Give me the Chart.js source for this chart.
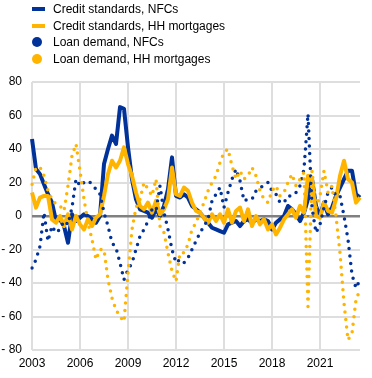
<!DOCTYPE html>
<html>
<head>
<meta charset="utf-8">
<script src="https://cdn.jsdelivr.net/npm/chart.js@4.4.1/dist/chart.umd.min.js"></script>
<style>
  html, body { margin: 0; padding: 0; background: #fff; }
  #wrap { position: relative; width: 372px; height: 378px; }
  #chart { position: absolute; left: 0; top: 0; }
  #legend { position: absolute; left: 0; top: 0; font: 12px "Liberation Sans", Arial, sans-serif; color: #000; }
  .item { position: absolute; left: 53px; white-space: nowrap; line-height: 14px; }
  .mark { position: absolute; }
</style>
</head>
<body>
<div id="wrap">
  <canvas id="chart" width="372" height="378"></canvas>
  <div id="legend"></div>
</div>
<script>
// quarters 2003Q1 .. 2023Q3
const firstYear = 2003;
const quarterCount = 83;
const yearTicks = ["2003", "2006", "2009", "2012", "2015", "2018", "2021"];

// Credit standards (net %), solid lines
const creditNFC = [
  46, 28, 25, 19, 13, 8, -3, -2, -6, -16, 1, -3,
  -1, 1, 0, -2, -4, 0, 31, 40, 48, 43, 65, 64,
  41, 22, 10, 4, 3, 2, -1, 4, 0, 6, 16, 35,
  12, 11, 13, 11, 6, 4, 2, -1, -4, -7, -8, -9,
  -10, -5, -4, -3, -6, -3, -2, -4, -2, -3, -2, -3,
  -8, -4, -2, 0, 6, 4, 1, -3, 2, 10, 22, 6,
  0, 8, 1, 5, 12, 17, 22, 27, 27, 13, 11
];
const creditHH = [
  14, 5, 11, 12, 12, -2, -4, 0, -6, 1, -8, 0,
  -5, -8, -2, -6, -1, 1, 12, 25, 33, 29, 33, 41,
  31, 24, 14, 6, 4, 8, 2, 9, 1, 4, 10, 29,
  13, 12, 17, 15, 8, 3, 2, -1, -4, 1, -3, 1,
  -4, 4, -4, 3, 5, -3, 4, -6, 0, -5, -2, -8,
  -5, -11, -7, -2, 1, 4, -1, 6, 2, 24, 22, 0,
  -1, 8, 3, 2, 10, 24, 33, 22, 20, 8, 11
];

// Loan demand (net %), dotted lines
const demandNFC = [
  -31, -26, -18, 2, -15, -6, -10, -8, -3, -5, 5, 22,
  18, 20, 21, 19, 16, 13, 2, -6, -16, -19, -28, -38,
  -32, -28, -20, -12, -8, -3, 4, 3, 18, 2, -8, -20,
  -28, -26, -28, -25, -20, -15, -10, -6, -2, 9, 13, 17,
  5, 14, 22, 28, 21, 9, 10, 10, 15, 17, 18, 20,
  15, 13, 8, 8, 12, 12, 14, 18, 28, 61, 5, -10,
  -5, 5, 14, 17, 12, 12, 0, -14, -35, -43, -38
];
const demandHH = [
  19, 29, 29, 24, 15, 10, 7, 6, 3, 18, 36, 43,
  27, 10, -4, -14, -26, -20, -20, -38, -49, -56, -60, -63,
  -34, -8, 5, 10, 20, 16, 12, 22, -6, -10, -22, -33,
  -39, -22, -22, -17, -8, -4, 2, 8, 15, 20, 24, 32,
  38, 40, 30, 22, 27, 22, 24, 29, 24, 15, 10, 8,
  15, 18, 12, 14, 20, 25, 18, 22, 26, -54, 27, 5,
  12, 27, 14, 18, 0, -22, -52, -74, -70, -50, -44
];

const labels = [];
for (let i = 0; i < quarterCount; i++) {
  labels.push((firstYear + Math.floor(i / 4)) + "Q" + (i % 4 + 1));
}

const BLUE = "#003299";
const YELLOW = "#ffb400";
const FONT = "'Liberation Sans', Arial, sans-serif";

function isYearTick(i) {
  const lab = labels[i];
  return lab && lab.endsWith("Q1") && yearTicks.includes(lab.slice(0, 4));
}

const datasets = [
  { label: "Credit standards, NFCs", data: creditNFC, borderColor: BLUE, borderWidth: 4, order: 4, legend: "line" },
  { label: "Credit standards, HH mortgages", data: creditHH, borderColor: YELLOW, borderWidth: 4, order: 3, legend: "line" },
  { label: "Loan demand, NFCs", data: demandNFC, borderColor: BLUE, borderWidth: 3.5, borderDash: [0, 7.5], borderCapStyle: "round", order: 2, legend: "dot" },
  { label: "Loan demand, HH mortgages", data: demandHH, borderColor: YELLOW, borderWidth: 3.5, borderDash: [0, 7.5], borderCapStyle: "round", order: 1, legend: "dot" }
];

// legend (html, one entry per row)
const legendEl = document.getElementById("legend");
datasets.forEach((ds, k) => {
  const cy = 9 + k * 16.5;
  const mark = document.createElement("div");
  mark.className = "mark";
  if (ds.legend === "line") {
    mark.style.cssText = `left:32px;top:${cy - 2}px;width:13px;height:4px;background:${ds.borderColor};`;
  } else {
    mark.style.cssText = `left:32px;top:${cy - 5}px;width:10px;height:10px;border-radius:50%;background:${ds.borderColor};`;
  }
  const txt = document.createElement("div");
  txt.className = "item";
  txt.style.top = (cy - 7) + "px";
  txt.textContent = ds.label;
  legendEl.appendChild(mark);
  legendEl.appendChild(txt);
});

const ctx = document.getElementById("chart").getContext("2d");
new Chart(ctx, {
  type: "line",
  data: {
    labels: labels,
    datasets: datasets.map(ds => ({
      label: ds.label,
      data: ds.data,
      borderColor: ds.borderColor,
      backgroundColor: ds.borderColor,
      borderWidth: ds.borderWidth,
      borderDash: ds.borderDash || [],
      borderCapStyle: ds.borderCapStyle || "butt",
      borderJoinStyle: "round",
      pointRadius: 0,
      tension: 0,
      fill: false,
      order: ds.order
    }))
  },
  options: {
    responsive: false,
    animation: false,
    layout: { padding: { top: 82, right: 12, left: 0, bottom: 0 } },
    plugins: {
      legend: { display: false },
      tooltip: { enabled: false }
    },
    scales: {
      x: {
        offset: false,
        border: { display: false },
        grid: {
          drawTicks: false,
          lineWidth: 2,
          color: (c) => isYearTick(c.index) ? "#dedede" : "rgba(0,0,0,0)"
        },
        ticks: {
          autoSkip: false,
          maxRotation: 0,
          padding: 6,
          color: "#000",
          font: { family: FONT, size: 12 },
          callback: (v, i) => isYearTick(i) ? labels[i].slice(0, 4) : ""
        },
        afterFit: (s) => { s.height = 28; }
      },
      y: {
        min: -80,
        max: 80,
        border: { display: false },
        grid: {
          drawTicks: false,
          lineWidth: (c) => c.tick && c.tick.value === 0 ? 2.5 : 2,
          color: (c) => c.tick && c.tick.value === 0 ? "#808080" : "#dedede"
        },
        ticks: {
          stepSize: 20,
          padding: 10,
          color: "#000",
          font: { family: FONT, size: 12 },
          callback: (v) => v < 0 ? "- " + Math.abs(v) : String(v)
        },
        afterFit: (s) => { s.width = 32; }
      }
    }
  }
});
</script>
</body>
</html>
